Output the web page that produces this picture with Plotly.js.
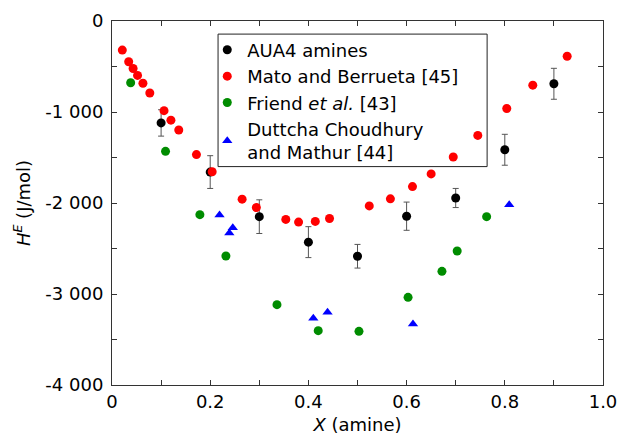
<!DOCTYPE html>
<html><head><meta charset="utf-8">
<script src="https://cdn.plot.ly/plotly-3.0.1.min.js"></script>
<style>html,body{margin:0;padding:0;background:#fff}#c{width:617px;height:441px}</style>
</head><body><div id="c"></div>
<script>
// AUA4 amines (simulation) with error bars
const auaX = [0.1, 0.2, 0.3, 0.4, 0.5, 0.6, 0.7, 0.8, 0.9];
const auaY = [-1120, -1660, -2150, -2430, -2585, -2145, -1945, -1415, -690];
const auaErr = [145, 180, 185, 170, 130, 155, 105, 170, 170];

// Mato and Berrueta [45]
const matoX = [0.021, 0.034, 0.043, 0.052, 0.063, 0.077, 0.106, 0.120, 0.136, 0.172, 0.204, 0.265, 0.294,
               0.354, 0.380, 0.414, 0.443, 0.524, 0.567, 0.612, 0.650, 0.695, 0.745, 0.804, 0.857, 0.927];
const matoY = [-320, -448, -522, -598, -684, -791, -985, -1090, -1198, -1468, -1657, -1958, -2050,
               -2180, -2210, -2202, -2170, -2032, -1954, -1820, -1680, -1495, -1257, -962, -705, -387];

// Friend et al. [43]
const friendX = [0.038, 0.109, 0.179, 0.232, 0.336, 0.420, 0.503, 0.603, 0.672, 0.703, 0.763];
const friendY = [-678, -1432, -2128, -2582, -3117, -3403, -3410, -3037, -2751, -2527, -2150];

// Duttcha Choudhury and Mathur [44]
const duttX = [0.219, 0.246, 0.239, 0.410, 0.439, 0.613, 0.809];
const duttY = [-2132, -2272, -2330, -3267, -3201, -3330, -2018];

// axis ticks
const xTickVals = [0, 0.1, 0.2, 0.3, 0.4, 0.5, 0.6, 0.7, 0.8, 0.9, 1.0];
const xTickText = ['0', '', '0.2', '', '0.4', '', '0.6', '', '0.8', '', '1.0'];
const yTickVals = [0, -500, -1000, -1500, -2000, -2500, -3000, -3500, -4000];
const yTickText = ['0', '', '-1 000', '', '-2 000', '', '-3 000', '', '-4 000'];

const seriesNames = ['AUA4 amines', 'Mato and Berrueta [45]', 'Friend <i>et al.</i> [43]',
                     'Duttcha Choudhury<br>and Mathur [44]'];

const FONT = 'DejaVu Sans, Liberation Sans, sans-serif';
const traces = [
  {x: auaX, y: auaY, name: seriesNames[0], mode: 'markers', type: 'scatter',
   marker: {color: '#000000', size: 9},
   error_y: {type: 'data', array: auaErr, visible: true, color: '#555555', thickness: 1, width: 3}},
  {x: matoX, y: matoY, name: seriesNames[1], mode: 'markers', type: 'scatter',
   marker: {color: '#ff0000', size: 9}},
  {x: friendX, y: friendY, name: seriesNames[2], mode: 'markers', type: 'scatter',
   marker: {color: '#008c00', size: 9}},
  {x: duttX, y: duttY, name: seriesNames[3], mode: 'markers', type: 'scatter',
   marker: {color: '#0000ff', size: 9, symbol: 'triangle-up'}}
];

const axisCommon = {
  showgrid: false, zeroline: false, showline: true, linecolor: '#333333', linewidth: 1,
  mirror: 'ticks', ticks: 'inside', ticklen: 5, tickcolor: '#333333', tickwidth: 1,
  tickmode: 'array', ticklabeloverflow: 'allow', tickfont: {family: FONT, size: 18, color: '#000'}
};

const layout = {
  width: 617, height: 441,
  margin: {l: 112, r: 14, t: 21, b: 56},
  paper_bgcolor: '#ffffff', plot_bgcolor: '#ffffff',
  font: {family: FONT, size: 18, color: '#000'},
  showlegend: true,
  legend: {x: 0.194, y: 0.971, xanchor: 'left', yanchor: 'top', bgcolor: 'rgba(255,255,255,0)',
           borderwidth: 0, font: {family: FONT, size: 18, color: '#000'}, tracegroupgap: 0},
  xaxis: Object.assign({}, axisCommon, {
    range: [0, 1.0], tickvals: xTickVals, ticktext: xTickText,
    title: {text: '<i>X</i> (amine)', font: {family: FONT, size: 18, color: '#000'}, standoff: 7}
  }),
  yaxis: Object.assign({}, axisCommon, {
    range: [-4000, 0], tickvals: yTickVals, ticktext: yTickText, ticklabelstandoff: 4,
    title: {text: '<i>H</i><sup><i>E</i></sup> (J/mol)', font: {family: FONT, size: 18, color: '#000'}, standoff: 10}
  }),
  shapes: [{type: 'rect', xref: 'paper', yref: 'paper', x0: 0.216, x1: 0.764, y0: 0.6, y1: 0.964,
            line: {color: '#222222', width: 1}, fillcolor: 'rgba(255,255,255,1)', layer: 'below'}]
};

Plotly.newPlot('c', traces, layout, {staticPlot: true, displayModeBar: false});
</script></body></html>
